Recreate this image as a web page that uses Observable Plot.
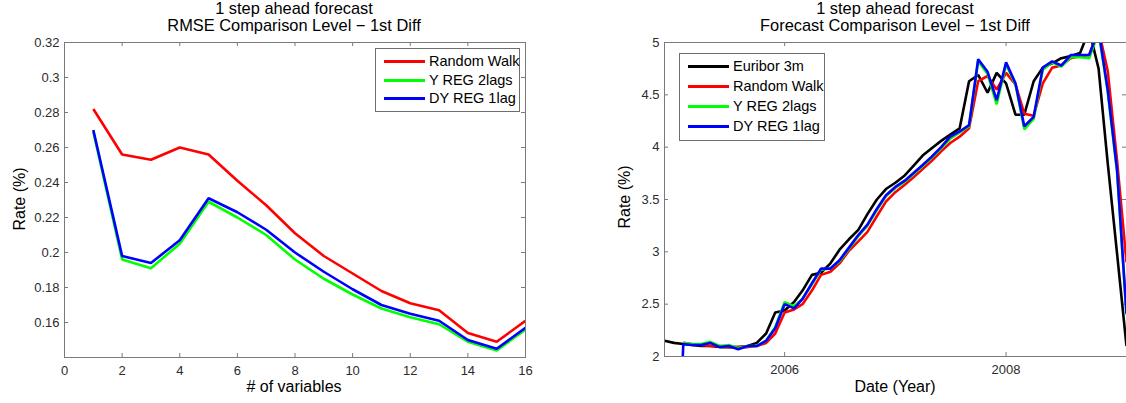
<!DOCTYPE html>
<html>
<head>
<meta charset="utf-8">
<script src="https://cdn.jsdelivr.net/npm/d3@7"></script>
<script src="https://cdn.jsdelivr.net/npm/@observablehq/plot@0.6"></script>
<style>
  body { margin: 0; background: #fff; }
  #root { position: relative; width: 1126px; height: 403px; overflow: hidden; background: #fff;
          font-family: "Liberation Sans", Arial, sans-serif; }
  .abs { position: absolute; white-space: nowrap; color: #000; }
  .title { font-size: 16.4px; text-align: center; line-height: 17px; }
  .lab { font-size: 16px; }
  .legend { position: absolute; background: #fff; border: 1px solid #6e6e6e; font-size: 14.5px; }
  .legend .row { position: absolute; left: 0; right: 0; height: 18px; }
  .legend .sw { position: absolute; left: 8px; top: 8px; width: 41px; height: 3px; }
  .legend .tx { position: absolute; left: 53px; top: 0; line-height: 18px; color: #000; white-space: nowrap; }
</style>
</head>
<body>
<div id="root"></div>
<script>
// ---------- Left chart data: RMSE vs number of variables ----------
const nVars = [1,2,3,4,5,6,7,8,9,10,11,12,13,14,15,16];
const rmseRandomWalk = [0.282,0.256,0.253,0.260,0.256,0.241,0.227,0.211,0.198,0.188,0.178,0.171,0.167,0.154,0.149,0.161];
const rmseYReg2 =      [0.269,0.196,0.191,0.205,0.229,0.220,0.210,0.196,0.185,0.176,0.168,0.163,0.159,0.149,0.144,0.156];
const rmseDYReg1 =     [0.270,0.198,0.194,0.207,0.231,0.223,0.213,0.200,0.189,0.179,0.170,0.165,0.161,0.150,0.145,0.157];
const leftXTicks = [0,2,4,6,8,10,12,14,16];
const leftYTicks = [0.16,0.18,0.2,0.22,0.24,0.26,0.28,0.3,0.32];

// ---------- Right chart data: monthly rates, Dec 2004 .. Feb 2009 ----------
const startMonth = "2004-12-01", endMonth = "2009-03-01";
const euribor3m = [2.15,2.13,2.12,2.11,2.10,2.10,2.09,2.09,2.09,2.10,
                   2.13,2.22,2.42,2.44,2.52,2.63,2.78,2.80,2.89,3.02,
                   3.12,3.21,3.36,3.50,3.60,3.66,3.73,3.82,3.92,3.99,
                   4.06,4.12,4.18,4.63,4.69,4.52,4.71,4.61,4.31,4.31,
                   4.63,4.76,4.80,4.85,4.87,4.90,5.12,4.75,3.85,2.98,2.10];
const fcRandomWalk = [null,null,2.13,2.12,2.11,2.10,2.10,2.09,2.09,2.09,
                   2.10,2.13,2.22,2.42,2.45,2.50,2.63,2.78,2.81,2.89,
                   3.01,3.10,3.19,3.34,3.48,3.57,3.64,3.71,3.79,3.87,
                   3.96,4.04,4.10,4.18,4.63,4.68,4.55,4.71,4.60,4.32,
                   4.30,4.61,4.76,4.78,4.85,4.87,4.88,5.12,4.73,3.87,2.90];
const fcYReg2 = [null,null,2.13,2.12,2.12,2.14,2.10,2.11,2.08,2.10,
                   2.10,2.15,2.28,2.52,2.48,2.55,2.69,2.83,2.84,2.91,
                   3.03,3.15,3.25,3.40,3.53,3.61,3.67,3.74,3.82,3.90,
                   3.99,4.08,4.14,4.20,4.82,4.70,4.41,4.79,4.60,4.17,
                   4.27,4.74,4.81,4.77,4.86,4.86,4.85,5.10,4.53,3.76,2.40];
const fcDYReg1 = [null,0.00,2.12,2.11,2.11,2.13,2.09,2.10,2.07,2.10,
                   2.10,2.15,2.27,2.50,2.46,2.55,2.70,2.84,2.84,2.92,
                   3.04,3.16,3.26,3.41,3.54,3.62,3.68,3.75,3.83,3.91,
                   4.00,4.10,4.15,4.21,4.84,4.72,4.45,4.81,4.61,4.20,
                   4.29,4.76,4.82,4.78,4.88,4.88,4.88,5.12,4.55,3.78,2.41];
const rightYTicks = [2,2.5,3,3.5,4,4.5,5];
const rightXTickYears = ["2006-01-01","2008-01-01"];

const leftSeries = ["Random Walk","Y REG 2lags","DY REG 1lag"];
const rightSeries = ["Euribor 3m","Random Walk","Y REG 2lags","DY REG 1lag"];
const colorOf = {"Euribor 3m":"#000000","Random Walk":"#ff0000","Y REG 2lags":"#00ff00","DY REG 1lag":"#0000ff"};

const root = document.getElementById("root");
const axisColor = "#7a7a7a";
const tickTextColor = "#2b2b2b";
const FONT = "Liberation Sans, Arial, sans-serif";

// ---------- build left table ----------
const leftData = [];
[rmseRandomWalk, rmseYReg2, rmseDYReg1].forEach((arr, i) => {
  arr.forEach((v, j) => leftData.push({series: leftSeries[i], n: nVars[j], v}));
});

// ---------- build right table ----------
const months = d3.utcMonth.range(new Date(startMonth), new Date(endMonth));
const rightData = [];
[euribor3m, fcRandomWalk, fcYReg2, fcDYReg1].forEach((arr, i) => {
  arr.forEach((v, j) => { if (v != null) rightData.push({series: rightSeries[i], t: months[j], v}); });
});

function boxTicks(W, H, xTicks, yTicks, xAcc, yAcc) {
  const L = 4;
  return [
    Plot.tickX(xTicks, {x: xAcc, stroke: axisColor, strokeWidth: 1, insetTop: H - L}),
    Plot.tickX(xTicks, {x: xAcc, stroke: axisColor, strokeWidth: 1, insetBottom: H - L}),
    Plot.tickY(yTicks, {y: yAcc, stroke: axisColor, strokeWidth: 1, insetRight: W - L}),
    Plot.tickY(yTicks, {y: yAcc, stroke: axisColor, strokeWidth: 1, insetLeft: W - L})
  ];
}

// ---------- Left plot ----------
{
  const width = 560, height = 403, mL = 64, mR = 35, mT = 42, mB = 46;
  const W = width - mL - mR, H = height - mT - mB;
  const p = Plot.plot({
    width, height, marginLeft: mL, marginRight: mR, marginTop: mT, marginBottom: mB,
    style: {fontFamily: FONT, fontSize: "13px", background: "transparent", color: tickTextColor},
    x: {domain: [0, 16], label: null},
    y: {domain: [0.14, 0.32], label: null},
    color: {domain: leftSeries, range: leftSeries.map(s => colorOf[s])},
    marks: [
      Plot.axisX({ticks: leftXTicks, tickSize: 0, tickPadding: 8, fill: tickTextColor}),
      Plot.axisY({ticks: leftYTicks, tickSize: 0, tickPadding: 5, fill: tickTextColor,
                  tickFormat: d => String(+d.toFixed(2))}),
      ...boxTicks(W, H, leftXTicks, leftYTicks, d => d, d => d),
      Plot.line(leftData, {x: "n", y: "v", z: "series", stroke: "series", strokeWidth: 2.6,
                           strokeLinejoin: "miter", strokeLinecap: "butt", clip: true}),
      Plot.frame({stroke: axisColor, strokeWidth: 1})
    ]
  });
  p.style.position = "absolute"; p.style.left = "0px"; p.style.top = "0px";
  root.appendChild(p);
}

// ---------- Right plot ----------
{
  const left = 600, width = 527, height = 403, mL = 64, mR = 1, mT = 42, mB = 47;
  const W = width - mL - mR, H = height - mT - mB;
  const xt = rightXTickYears.map(s => new Date(s));
  const p = Plot.plot({
    width, height, marginLeft: mL, marginRight: mR, marginTop: mT, marginBottom: mB,
    style: {fontFamily: FONT, fontSize: "13px", background: "transparent", color: tickTextColor},
    x: {type: "utc", domain: [new Date(startMonth), months[months.length - 1]], label: null},
    y: {domain: [2, 5], label: null},
    color: {domain: rightSeries, range: rightSeries.map(s => colorOf[s])},
    marks: [
      Plot.axisX({ticks: xt, tickSize: 0, tickPadding: 8, tickFormat: d3.utcFormat("%Y"), fill: tickTextColor}),
      Plot.axisY({ticks: rightYTicks, tickSize: 0, tickPadding: 5, fill: tickTextColor,
                  tickFormat: d => String(d)}),
      ...boxTicks(W, H, xt, rightYTicks, d => d, d => d),
      Plot.line(rightData, {x: "t", y: "v", z: "series", stroke: "series", strokeWidth: 2.6,
                            strokeLinejoin: "miter", strokeLinecap: "butt", clip: true}),
      Plot.frame({stroke: axisColor, strokeWidth: 1})
    ]
  });
  p.style.position = "absolute"; p.style.left = left + "px"; p.style.top = "0px";
  root.appendChild(p);
}

// ---------- Text: titles, axis labels ----------
function addText(html, cls, css) {
  const d = document.createElement("div");
  d.className = "abs " + cls;
  d.innerHTML = html;
  Object.assign(d.style, css);
  root.appendChild(d);
  return d;
}
addText("1 step ahead forecast<br>RMSE Comparison Level &minus; 1st Diff", "title",
        {left: "94px", width: "400px", top: "0px"});
addText("1 step ahead forecast<br>Forecast Comparison Level &minus; 1st Diff", "title",
        {left: "695px", width: "400px", top: "0px"});
addText("# of variables", "lab", {left: "194px", width: "200px", textAlign: "center", top: "378px"});
addText("Date (Year)", "lab", {left: "795px", width: "200px", textAlign: "center", top: "378px"});
addText("Rate (%)", "lab", {left: "-30px", width: "100px", textAlign: "center", top: "190px",
        transform: "rotate(-90deg)"});
addText("Rate (%)", "lab", {left: "575px", width: "100px", textAlign: "center", top: "188px",
        transform: "rotate(-90deg)"});

// ---------- Legends ----------
function addLegend(series, left, top, w) {
  const box = document.createElement("div");
  box.className = "legend";
  const rowH = series.length === 3 ? 18.7 : 19.9;
  Object.assign(box.style, {left: left + "px", top: top + "px", width: w + "px",
                            height: (series.length * rowH + 6) + "px"});
  series.forEach((s, i) => {
    const r = document.createElement("div");
    r.className = "row";
    r.style.top = (3 + i * rowH) + "px";
    r.innerHTML = `<div class="sw" style="background:${colorOf[s]}"></div><div class="tx">${s}</div>`;
    box.appendChild(r);
  });
  root.appendChild(box);
}
addLegend(leftSeries, 375, 48, 143);
addLegend(rightSeries, 679, 53, 144);
</script>
</body>
</html>
